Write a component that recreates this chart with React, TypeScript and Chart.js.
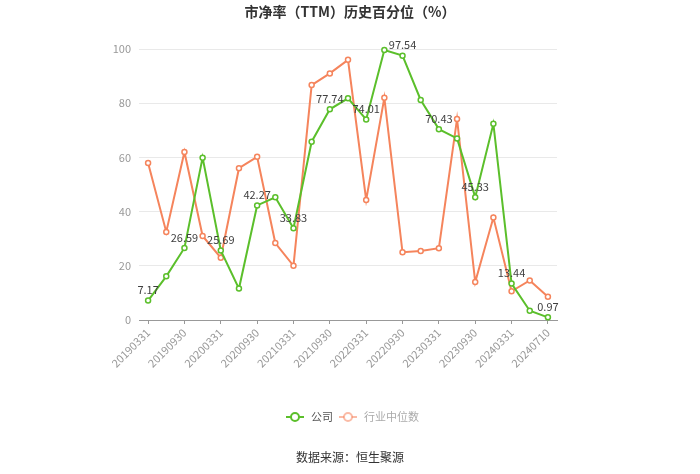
import React, { useEffect, useRef } from "react";
import { Chart, registerables } from "chart.js";

Chart.register(...registerables);

const categories = [
  "20190331", "20190630", "20190930", "20191231", "20200331", "20200630",
  "20200930", "20201231", "20210331", "20210630", "20210930", "20211231",
  "20220331", "20220630", "20220930", "20221231", "20230331", "20230630",
  "20230930", "20231231", "20240331", "20240630", "20240710",
];

const companyValues = [
  7.17, 16.1, 26.59, 59.9, 25.69, 11.6, 42.27, 45.3, 33.83, 65.8, 77.74, 81.8,
  74.01, 99.6, 97.54, 81.2, 70.43, 67.0, 45.33, 72.4, 13.44, 3.4, 0.97,
];

const industryValues = [
  57.9, 32.5, 62.0, 31.0, 23.0, 56.0, 60.2, 28.4, 20.0, 86.7, 91.0, 96.0,
  44.3, 82.0, 25.0, 25.5, 26.5, 74.2, 14.0, 37.8, 10.6, 14.6, 8.6,
];

const yTicks = [0, 20, 40, 60, 80, 100];

const seriesNames = ["公司", "行业中位数"];
const titleText = "市净率（TTM）历史百分位（%）";
const sourceText = "数据来源：恒生聚源";

const GREEN = "#5bbf2b";
const ORANGE = "#f5845c";
const FONT = '"Noto Sans CJK SC", "Noto Sans", sans-serif';

const decorPlugin = {
  id: "decor",
  afterDatasetsDraw(chart: any) {
    const ctx = chart.ctx;
    const meta = chart.getDatasetMeta(0);
    ctx.save();
    ctx.font = `11px ${FONT}`;
    ctx.fillStyle = "#404040";
    ctx.textAlign = "center";
    ctx.textBaseline = "bottom";
    meta.data.forEach((pt: any, i: number) => {
      if (i % 2 !== 0) return;
      const v = chart.data.datasets[0].data[i];
      ctx.fillText(String(v), pt.x, pt.y - 5);
    });
    ctx.restore();
  },
  afterDraw(chart: any) {
    const ctx = chart.ctx;
    const w = chart.width;
    ctx.save();
    // title
    ctx.font = `bold 14px ${FONT}`;
    ctx.fillStyle = "#333";
    ctx.textAlign = "center";
    ctx.textBaseline = "middle";
    ctx.fillText(titleText, w / 2, 12);

    // legend
    const items = [
      { x: 286, color: GREEN, text: chart.data.datasets[0].label, textColor: "#555" },
      { x: 339, color: "rgba(245,132,92,0.55)", text: chart.data.datasets[1].label, textColor: "#aaa" },
    ];
    const ly = 417;
    items.forEach((it) => {
      ctx.strokeStyle = it.color;
      ctx.lineWidth = 2;
      ctx.beginPath();
      ctx.moveTo(it.x, ly);
      ctx.lineTo(it.x + 18, ly);
      ctx.stroke();
      ctx.beginPath();
      ctx.arc(it.x + 9, ly, 4, 0, Math.PI * 2);
      ctx.fillStyle = "#fff";
      ctx.fill();
      ctx.stroke();
      ctx.font = `11px ${FONT}`;
      ctx.fillStyle = it.textColor;
      ctx.textAlign = "left";
      ctx.textBaseline = "middle";
      ctx.fillText(it.text, it.x + 25, ly);
    });

    // source
    ctx.font = `12px ${FONT}`;
    ctx.fillStyle = "#333";
    ctx.textAlign = "center";
    ctx.textBaseline = "middle";
    ctx.fillText(sourceText, w / 2, 457);
    ctx.restore();
  },
};

export default function App() {
  const ref = useRef<HTMLCanvasElement | null>(null);

  useEffect(() => {
    document.body.style.margin = "0";
    const canvas = ref.current;
    if (!canvas) return;
    const chart = new Chart(canvas, {
      type: "line",
      data: {
        labels: categories,
        datasets: [
          {
            label: seriesNames[0],
            data: companyValues,
            borderColor: GREEN,
            backgroundColor: "#fff",
            borderWidth: 2,
            pointRadius: 2.5,
            pointBorderWidth: 1.5,
            pointBackgroundColor: "#fff",
            pointBorderColor: GREEN,
            tension: 0,
            clip: false,
          },
          {
            label: seriesNames[1],
            data: industryValues,
            borderColor: ORANGE,
            backgroundColor: "#fff",
            borderWidth: 2,
            pointRadius: 2.5,
            pointBorderWidth: 1.5,
            pointBackgroundColor: "#fff",
            pointBorderColor: ORANGE,
            tension: 0,
            clip: false,
          },
        ],
      },
      options: {
        animation: false,
        responsive: false,
        maintainAspectRatio: false,
        layout: { padding: { left: 0, right: 143, top: 49, bottom: 0 } },
        plugins: {
          legend: { display: false },
          title: { display: false },
          tooltip: { enabled: false },
        },
        scales: {
          x: {
            type: "category",
            offset: true,
            grid: {
              drawOnChartArea: false,
              drawTicks: true,
              tickLength: 4,
              color: "#999",
            },
            border: { display: true, color: "#999", width: 1 },
            ticks: {
              autoSkip: false,
              minRotation: 45,
              maxRotation: 45,
              padding: 2,
              color: "#999",
              font: { size: 11, family: FONT },
              callback: (_v: any, i: number) => (i % 2 === 0 ? categories[i] : null),
            },
            afterFit: (s: any) => {
              s.height = 154;
            },
          },
          y: {
            min: 0,
            max: 100,
            afterBuildTicks: (s: any) => {
              s.ticks = yTicks.map((v) => ({ value: v }));
            },
            grid: { color: "#e9e9e9", drawTicks: false },
            border: { display: false },
            ticks: {
              padding: 8,
              color: "#999",
              font: { size: 11, family: FONT },
            },
            afterFit: (s: any) => {
              s.width = 139;
            },
          },
        },
      },
      plugins: [decorPlugin],
    });
    return () => chart.destroy();
  }, []);

  return (
    <div style={{ width: 700, height: 474, background: "#fff" }}>
      <canvas ref={ref} width={700} height={474} style={{ display: "block" }} />
    </div>
  );
}
